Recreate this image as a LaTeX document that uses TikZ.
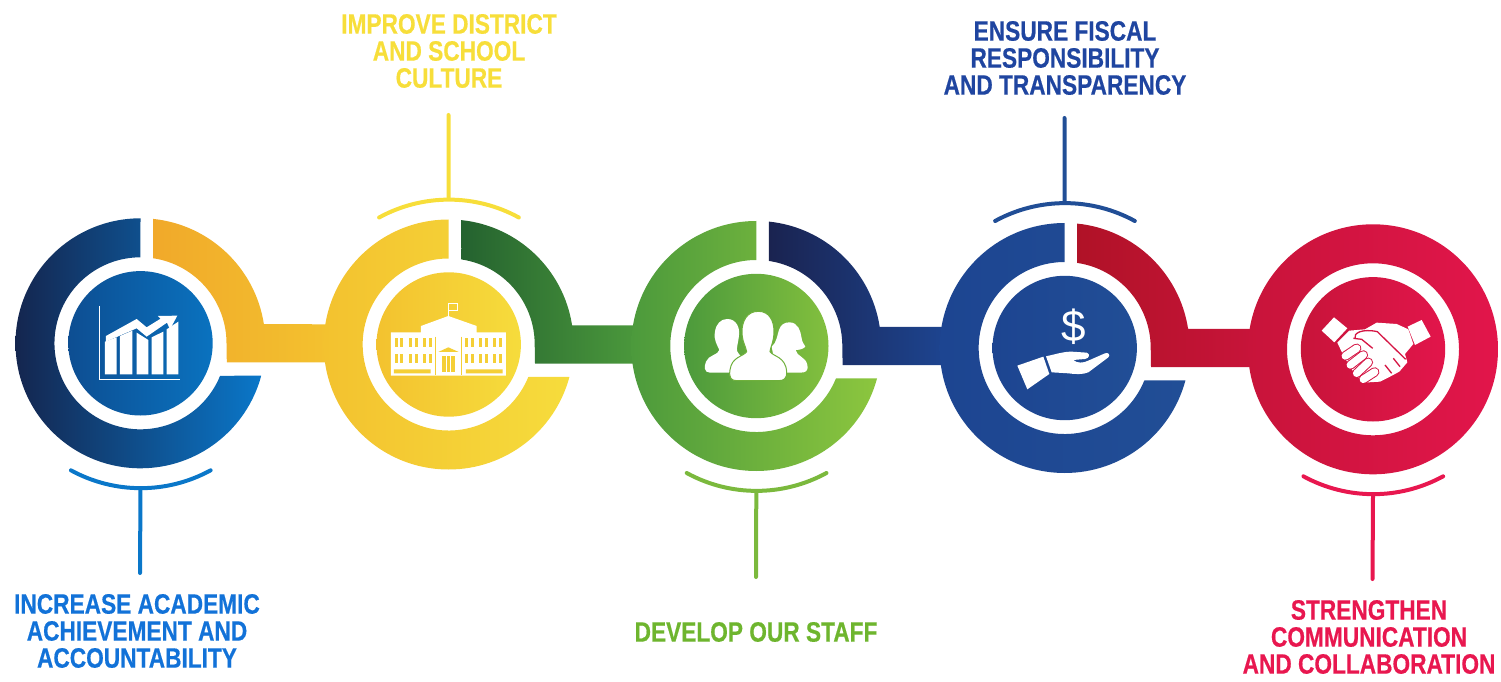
\documentclass[tikz,border=0pt]{standalone}
\usepackage{fontspec}
\setmainfont{Liberation Sans}
\newfontfamily\capfont[FakeStretch=0.81,FakeBold=0.5]{Liberation Sans Bold}
\usetikzlibrary{calc}
\definecolor{blueA}{HTML}{14264F}\definecolor{blueB}{HTML}{0D5AA5}\definecolor{blueC}{HTML}{0A77C9}
\definecolor{diskA}{HTML}{0D4E92}\definecolor{diskB}{HTML}{0A72BF}
\definecolor{oranA}{HTML}{F1A92A}\definecolor{yelA}{HTML}{F3C22F}\definecolor{yelB}{HTML}{F6DC3C}
\definecolor{dgrA}{HTML}{24622F}\definecolor{grA}{HTML}{4C9A3C}\definecolor{grB}{HTML}{8CC63E}\definecolor{grC}{HTML}{6FB03C}
\definecolor{navA}{HTML}{1A2350}\definecolor{nvA}{HTML}{1D4591}\definecolor{nvB}{HTML}{214E96}
\definecolor{redA}{HTML}{B01227}\definecolor{crA}{HTML}{C8143A}\definecolor{crB}{HTML}{E2154B}
\definecolor{capblue}{HTML}{1272D8}\definecolor{capyel}{HTML}{F7DE3A}\definecolor{capgr}{HTML}{6EB52E}
\definecolor{capnv}{HTML}{1F45A0}\definecolor{capcr}{HTML}{E8174F}
\newcommand{\leftring}[3]{\shade[left color=#1,middle color=#2,right color=#3]
 (0,125) arc[start angle=90,end angle=345,radius=125] -- (79.6,-32.5)
 arc[start angle=337.8,end angle=90,radius=86] -- cycle;}
\newcommand{\rightring}[2]{\shade[left color=#1,right color=#2]
 (12.5,124.4) arc[start angle=84.2,end angle=8.8,radius=125] -- (192,19) -- (192,-19) -- (86.3,-19) -- (86,0)
 arc[start angle=0,end angle=81.6,radius=86] -- cycle;}
\newcommand{\innerdisk}[2]{\shade[left color=#1,right color=#2] (0,0) circle[radius=72.2];}
\tikzset{
  capline/.style={line width=4pt,line cap=round},
  capstem/.style={line width=4pt,line cap=round},
  captext/.style={font=\capfont\fontsize{28}{27}\selectfont,align=center,inner sep=0pt},
}
\begin{document}
\begin{tikzpicture}[x=1pt,y=1pt]
\useasboundingbox (0,0) rectangle (1501,681);
% ---------- 1
\begin{scope}[shift={(140.5,681-343.3)}]
 \leftring{blueA}{blueB}{blueC}
 \rightring{oranA}{yelA}
 \innerdisk{diskA}{diskB}
 \draw[capline,blueC] (-69.6,-127) arc[start angle=241.3,end angle=298.7,radius=145.5];
 \coordinate (a1) at (0,-145.5);
\end{scope}
\begin{scope}[shift={(0,681-200)},x=0.3333pt,y=-0.3333pt]
 \draw[white,line width=1.4pt] (299,318) -- (299,538) -- (540,538);
 \fill[white] (315,523) -- (315,425) -- (350,412) -- (350,523) -- cycle;
 \fill[white] (360,523) -- (360,408) -- (397,392) -- (397,523) -- cycle;
 \fill[white] (410,523) -- (410,398) -- (445,420) -- (445,523) -- cycle;
 \fill[white] (455,523) -- (455,412) -- (490,395) -- (490,523) -- cycle;
 \fill[white] (500,523) -- (500,388) -- (535,365) -- (535,523) -- cycle;
 \fill[white] (318,408) -- (410,357) -- (440,382) -- (482,356) -- (474,348) -- (532,347) -- (510,388) -- (501,368) -- (440,410) -- (410,385) -- (318,425) -- cycle;
\end{scope}
% ---------- 2
\begin{scope}[shift={(448.7,681-344.5)}]
 \leftring{yelA}{yelA!50!yelB}{yelB}
 \rightring{dgrA}{grA}
 \innerdisk{yelA}{yelB}
 \draw[capline,capyel] (-69.6,127) arc[start angle=118.7,end angle=61.3,radius=145.5];
 \coordinate (a2) at (0,145.5);
\end{scope}
\begin{scope}[shift={(320,681-200)},x=0.3333pt,y=-0.3333pt]
 \fill[white] (213,397) -- (303,397) -- (303,378) -- (385,348) -- (470,378) -- (470,397) -- (558,397) -- (558,527) -- (213,527) -- cycle;
 \draw[white,line width=1pt] (385,348) -- (385,312) -- (413,312) -- (413,333) -- (385,333);
 \foreach \xx in {224,241,267,284,309,326,435,452,478,495,520,537} {
   \fill[yelA!50!yelB] (\xx,414) rectangle ++(9,26);
   \fill[yelA!50!yelB] (\xx,461) rectangle ++(9,27);
 }
 \fill[yelA!50!yelB] (355,456) -- (385,442) -- (416,456) -- cycle;
 \fill[yelA!50!yelB] (365,467) rectangle (405,515);
 \draw[white,line width=.8pt] (378,467) -- (378,515) (392,467) -- (392,515);
 \fill[yelA!50!yelB] (222,508) rectangle (332,520) (438,508) rectangle (548,520);
 \draw[yelA!50!yelB,line width=.6pt] (345,410) -- (345,525) (425,410) -- (425,525);
\end{scope}
% ---------- 3
\begin{scope}[shift={(756.3,681-346)}]
 \leftring{grA}{grC}{grB}
 \rightring{navA}{nvA}
 \innerdisk{grA}{grB!85!grA}
 \draw[capline,grC!60!grB] (-69.6,-127) arc[start angle=241.3,end angle=298.7,radius=145.5];
 \coordinate (a3) at (0,-145.5);
\end{scope}
\begin{scope}[shift={(630,681-200)},x=0.3333pt,y=-0.3333pt]
 \fill[white] (292,357) .. controls (320,357) and (330,385) .. (327,405) .. controls (325,430) and (318,445) .. (322,455) .. controls (330,470) and (345,475) .. (345,490) -- (330,518) -- (240,518) .. controls (222,518) and (222,500) .. (228,485) .. controls (235,465) and (265,465) .. (268,450) .. controls (262,435) and (250,420) .. (255,395) .. controls (258,372) and (272,357) .. (292,357) -- cycle;
 \fill[white] (478,367) .. controls (505,367) and (512,395) .. (514,410) .. controls (516,430) and (525,435) .. (526,440) .. controls (520,448) and (505,450) .. (497,450) .. controls (500,470) and (528,470) .. (532,495) .. controls (536,515) and (525,518) .. (510,518) -- (440,518) -- (425,440) .. controls (440,430) and (443,400) .. (447,390) .. controls (452,375) and (462,367) .. (478,367) -- cycle;
 \draw[fill=white,draw=grC,line width=1pt] (385,334) .. controls (420,334) and (432,365) .. (432,395) .. controls (432,425) and (420,445) .. (420,455) .. controls (430,470) and (467,470) .. (470,515) .. controls (471,538) and (460,542) .. (445,542) -- (320,542) .. controls (305,542) and (296,535) .. (300,510) .. controls (305,470) and (340,470) .. (350,455) .. controls (348,440) and (336,425) .. (336,395) .. controls (336,365) and (350,334) .. (385,334) -- cycle;
\end{scope}
% ---------- 4
\begin{scope}[shift={(1064.7,681-348)}]
 \leftring{nvA}{nvA!50!nvB}{nvB}
 \rightring{redA}{crA}
 \innerdisk{nvA}{nvB}
 \draw[capline,nvB] (-69.6,127) arc[start angle=118.7,end angle=61.3,radius=145.5];
 \coordinate (a4) at (0,145.5);
\end{scope}
\begin{scope}[shift={(940,681-200)},x=0.3333pt,y=-0.3333pt]
 \node[text=white,inner sep=0pt,font=\fontsize{44}{44}\selectfont] (dollar) at (402,381) {\$};
 \fill[white] (232,497) -- (310,470) -- (328,522) -- (262,568) -- cycle;
 \fill[white] (318,469) .. controls (350,462) and (370,455) .. (395,455) -- (440,458) .. controls (452,462) and (448,475) .. (435,477) -- (400,480) .. controls (410,490) and (430,490) .. (445,482) -- (495,460) .. controls (505,456) and (512,465) .. (505,472) -- (445,517) .. controls (430,524) and (405,523) .. (385,520) -- (335,517) -- cycle;
\end{scope}
% ---------- 5
\begin{scope}[shift={(1373,681-349.3)}]
 \shade[left color=crA,right color=crB,even odd rule] (0,0) circle[radius=125] (0,0) circle[radius=86];
 \innerdisk{crA}{crB}
 \draw[capline,capcr] (-69.6,-127) arc[start angle=241.3,end angle=298.7,radius=145.5];
 \coordinate (a5) at (0,-145.5);
\end{scope}
\begin{scope}[shift={(1240,681-200)},x=0.3333pt,y=-0.3333pt]
 \fill[white] (245,392) -- (282,352) -- (322,385) -- (283,427) -- cycle;
 \fill[white] (503,380) -- (545,360) -- (572,410) -- (525,435) -- cycle;
 \fill[white] (292,428) -- (328,392) -- (375,388) -- (410,368) -- (470,372) -- (505,388) -- (520,432) -- (495,462) -- (502,487) -- (478,515) -- (450,530) -- (420,545) -- (370,548) -- (340,515) -- (312,470) -- cycle;
 \draw[crA!50!crB,line width=1.3pt] (345,415) .. controls (340,400) and (365,385) .. (412,395) -- (497,478);
 \draw[crA!50!crB,line width=1.3pt] (340,415) -- (365,418) -- (398,445);
 \foreach \xa/\ya/\xb/\yb in {316/468/350/445,331/495/370/465,350/520/385/487,370/538/404/516} {
   \draw[crA!50!crB,line width=9.5pt,line cap=round] (\xa,\ya) -- (\xb,\yb);
   \draw[white,line width=7.5pt,line cap=round] (\xa,\ya) -- (\xb,\yb);
 }
 \draw[crA!50!crB,line width=1.3pt] (435,495) -- (455,520) (460,475) -- (480,500);
\end{scope}
% ---------- captions
\node[captext,text=capblue] (t1) at (137,681-631) {INCREASE ACADEMIC\\ACHIEVEMENT AND\\ACCOUNTABILITY};
\node[captext,text=capyel] (t2) at (449,681-51) {IMPROVE DISTRICT\\AND SCHOOL\\CULTURE};
\node[captext,text=capgr] (t3) at (756,681-632) {DEVELOP OUR STAFF};
\node[captext,text=capnv] (t4) at (1065,681-58) {ENSURE FISCAL\\RESPONSIBILITY\\AND TRANSPARENCY};
\node[captext,text=capcr] (t5) at (1369,681-637) {STRENGTHEN\\COMMUNICATION\\AND COLLABORATION};
% ---------- stems
\coordinate (e1) at (140,681-573);
\coordinate (e2) at (448.5,681-115);
\coordinate (e3) at (756,681-577);
\coordinate (e4) at (1064.5,681-118);
\coordinate (e5) at (1372.5,681-579);
\draw[capstem,blueC] (a1) -- (e1);
\draw[capstem,capyel] (a2) -- (e2);
\draw[capstem,grC!60!grB] (a3) -- (e3);
\draw[capstem,nvB] (a4) -- (e4);
\draw[capstem,capcr] (a5) -- (e5);
\end{tikzpicture}
\end{document}
